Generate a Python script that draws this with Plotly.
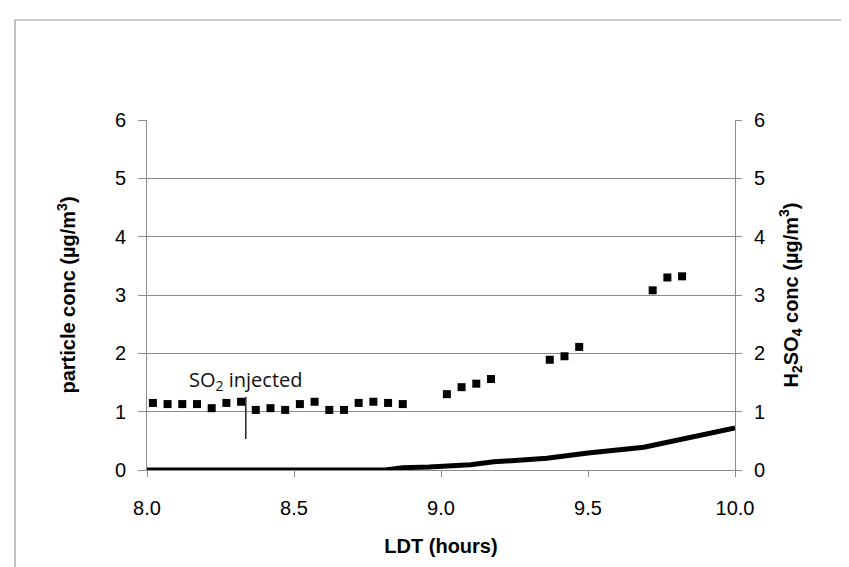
import plotly.graph_objects as go

# particle concentration (µg/m3) vs LDT (hours)
particle_time = [8.02, 8.07, 8.12, 8.17, 8.22, 8.27, 8.32, 8.37, 8.42, 8.47, 8.52, 8.57,
                 8.62, 8.67, 8.72, 8.77, 8.82, 8.87,
                 9.02, 9.07, 9.12, 9.17, 9.37, 9.42, 9.47, 9.72, 9.77, 9.82]
particle_conc = [1.15, 1.13, 1.13, 1.13, 1.06, 1.15, 1.17, 1.03, 1.06, 1.03, 1.13, 1.17,
                 1.03, 1.03, 1.15, 1.17, 1.15, 1.13,
                 1.30, 1.42, 1.48, 1.56, 1.89, 1.95, 2.11, 3.08, 3.30, 3.32]

# H2SO4 concentration (µg/m3)
h2so4_time = [8.0, 8.81, 8.87, 8.96, 9.10, 9.18, 9.36, 9.50, 9.69, 9.82, 10.0]
h2so4_conc = [0.0, 0.0, 0.04, 0.05, 0.09, 0.14, 0.20, 0.29, 0.39, 0.52, 0.72]

# SO2 injection marker
inject_time = 8.336
inject_y = [0.53, 1.25]
inject_label = "SO<sub>2</sub> injected"
inject_label_y = 1.54

x_ticks = [8.0, 8.5, 9.0, 9.5, 10.0]
y_ticks = [0, 1, 2, 3, 4, 5, 6]

GRID = "#8c8c8c"
FONT = "Liberation Sans, Arial, sans-serif"

fig = go.Figure()
fig.add_trace(go.Scatter(
    x=particle_time, y=particle_conc, mode="markers",
    marker=dict(symbol="square", size=8, color="black"),
    name="particle conc", yaxis="y",
))
fig.add_trace(go.Scatter(
    x=h2so4_time, y=h2so4_conc, mode="lines",
    line=dict(color="black", width=5),
    name="H2SO4 conc", yaxis="y2",
))
fig.add_trace(go.Scatter(
    x=[inject_time, inject_time], y=inject_y, mode="lines",
    line=dict(color="#222222", width=1.5),
    hoverinfo="skip", showlegend=False, yaxis="y",
))

fig.add_annotation(
    x=inject_time, y=inject_label_y, xref="x", yref="y",
    text=inject_label, showarrow=False,
    font=dict(family="Open Sans, sans-serif", size=20, color="#111"),
)

# outer chart border
fig.add_shape(type="rect", xref="paper", yref="paper",
              x0=-0.2245, x1=1.3, y0=-0.4, y1=1.2857,
              line=dict(color="#999999", width=1.2), fillcolor="rgba(0,0,0,0)",
              layer="below")

fig.update_layout(
    width=849, height=567,
    margin=dict(l=139, r=122, t=112, b=105),
    paper_bgcolor="white", plot_bgcolor="white",
    showlegend=False,
    font=dict(family=FONT, size=20, color="black"),
    xaxis=dict(
        range=[8.0, 10.0], tickvals=x_ticks, tickformat=".1f",
        showgrid=False, zeroline=False,
        showline=True, linecolor=GRID, linewidth=1,
        ticks="outside", ticklen=6, tickcolor=GRID,
        ticklabelstandoff=14,
        title=dict(text="<b>LDT (hours)</b>", font=dict(size=20), standoff=20),
    ),
    yaxis=dict(
        range=[0, 6], tickvals=y_ticks,
        showgrid=True, gridcolor=GRID, gridwidth=1, zeroline=False,
        showline=True, linecolor=GRID, linewidth=1,
        ticks="outside", ticklen=8, tickcolor=GRID,
        ticklabelstandoff=8,
        title=dict(text="<b>particle conc (µg/m<sup>3</sup>)</b>", font=dict(size=20), standoff=33),
    ),
    yaxis2=dict(
        range=[0, 6], tickvals=y_ticks, overlaying="y", side="right",
        showgrid=False, zeroline=False,
        showline=True, linecolor=GRID, linewidth=1,
        ticks="outside", ticklen=6, tickcolor=GRID,
        ticklabelstandoff=8,
        title=dict(text="<b>H<sub>2</sub>SO<sub>4</sub> conc (µg/m<sup>3</sup>)</b>", font=dict(size=20), standoff=19),
    ),
)

fig.write_html("out.html")
